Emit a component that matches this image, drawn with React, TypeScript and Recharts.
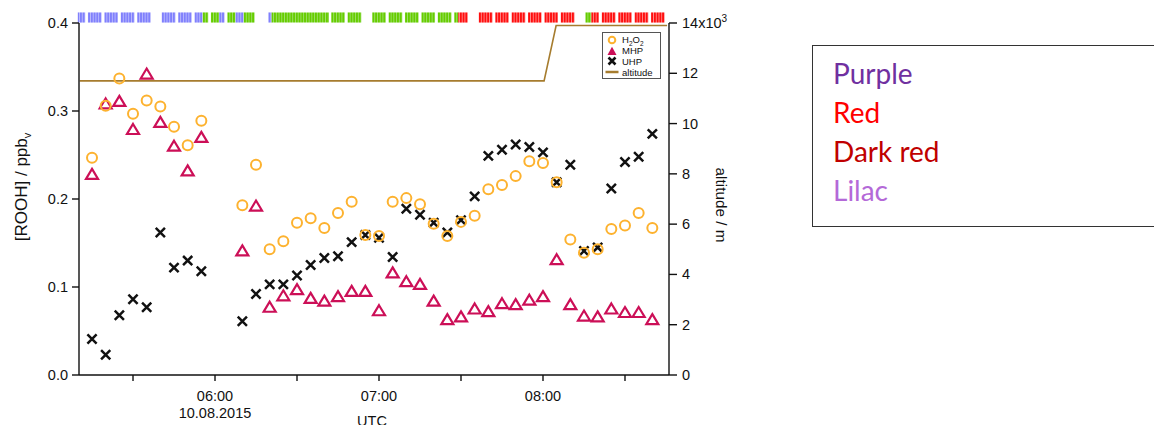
import React from 'react';
import { ComposedChart, Scatter, Line, XAxis, YAxis, ReferenceArea } from 'recharts';

// sample times, minutes after 00:00 UTC on 10.08.2015
const times = [
  315, 320, 325, 330, 335, 340, 345, 350, 355,
  370, 375, 380, 385, 390, 395, 400, 405, 410, 415, 420, 425, 430, 435, 440, 445,
  450, 455, 460, 465, 470, 475, 480, 485, 490, 495, 500, 505, 510, 515, 520,
];

const h2o2 = [
  0.247, 0.306, 0.337, 0.297, 0.312, 0.305, 0.282, 0.261, 0.289,
  0.193, 0.239, 0.143, 0.152, 0.173, 0.178, 0.167, 0.184, 0.197, 0.159, 0.158, 0.197, 0.201, 0.194, 0.172, 0.158,
  0.174, 0.181, 0.211, 0.216, 0.226, 0.243, 0.241, 0.219, 0.154, 0.139, 0.143, 0.166, 0.17, 0.184, 0.167,
];

const mhp = [
  0.228, 0.308, 0.311, 0.279, 0.342, 0.287, 0.26, 0.232, 0.27,
  0.141, 0.192, 0.077, 0.09, 0.097, 0.087, 0.084, 0.089, 0.095, 0.095, 0.073, 0.116, 0.106, 0.103, 0.084, 0.063,
  0.066, 0.075, 0.072, 0.081, 0.08, 0.085, 0.089, 0.131, 0.08, 0.067, 0.066, 0.075, 0.071, 0.071, 0.063,
];

const uhp = [
  0.041, 0.023, 0.068, 0.086, 0.077, 0.162, 0.122, 0.13, 0.118,
  0.061, 0.092, 0.103, 0.103, 0.113, 0.125, 0.133, 0.135, 0.151, 0.159, 0.156, 0.134, 0.189, 0.182, 0.173, 0.162,
  0.176, 0.203, 0.249, 0.256, 0.262, 0.259, 0.253, 0.219, 0.239, 0.141, 0.145, 0.212, 0.242, 0.248, 0.274,
];

const altTimes = [310.5, 480.4, 484.8, 525.4];
const altValues = [11700, 11700, 13900, 13900];

// air-mass flag strip on top: [from, to, flag]
const legs: [number, number, string][] = [
  [309.8, 312.5, 'blue'], [313.5, 318.5, 'blue'], [319.5, 324.5, 'blue'], [325.5, 330.5, 'blue'],
  [331.5, 336.5, 'blue'], [340.5, 345.5, 'blue'], [346.5, 351.5, 'blue'], [352.5, 355.5, 'blue'],
  [355.5, 357.5, 'green'], [358.5, 361.5, 'green'], [361.5, 363.5, 'blue'],
  [364.5, 367.5, 'green'], [367.5, 370.5, 'blue'], [370.5, 374.5, 'green'],
  [379.5, 380.7, 'blue'], [380.7, 401.7, 'green'], [402.5, 407.5, 'green'], [408.5, 413.5, 'green'],
  [417.5, 422.5, 'green'], [423.5, 428.5, 'green'], [429.5, 434.5, 'green'], [435.5, 440.5, 'green'],
  [441.5, 446.5, 'green'], [447.5, 449, 'green'], [449, 452.5, 'red'],
  [456.5, 461.5, 'red'], [462.5, 467.5, 'red'], [468.5, 473.5, 'red'], [474.5, 479.5, 'red'],
  [480.5, 485.5, 'red'], [486.5, 491.5, 'red'],
  [495.5, 497.7, 'green'], [497.7, 500.5, 'red'], [501.5, 506.5, 'red'], [507.5, 512.5, 'red'],
  [513.5, 518.5, 'red'], [519.5, 524.5, 'red'],
];

const timeTicks = [330, 360, 390, 420, 450, 480, 510];
const concTicks = [0, 0.1, 0.2, 0.3, 0.4];
const altTicks = [0, 2000, 4000, 6000, 8000, 10000, 12000, 14000];

const X_MIN = 310.24;
const X_MAX = 526.1;
const PLOT_W = 590;
const PX_PER_MIN = PLOT_W / (X_MAX - X_MIN);

const FONT = '"Liberation Sans", Arial, sans-serif';
const TICK_FS = 14.5;
const ORANGE = '#fdb22f';
const MAGENTA = '#cc0f57';
const BROWN = '#a67c2e';
const stripColors: Record<string, [string, string]> = {
  blue: ['#8080fc', '#c4c4ff'],
  green: ['#66cc00', '#a6e27a'],
  red: ['#ff0f0f', '#ff9a9a'],
};

const h2o2Data = times.map((t, i) => ({ t, v: h2o2[i] }));
const mhpData = times.map((t, i) => ({ t, v: mhp[i] }));
const uhpData = times.map((t, i) => ({ t, v: uhp[i] }));
const altData = altTimes.map((t, i) => ({ t, alt: altValues[i] }));

const Ring = (p: any) => (
  <circle cx={p.cx} cy={p.cy} r={5} fill="none" stroke={ORANGE} strokeWidth={2} />
);
const Tri = (p: any) => (
  <path
    d={`M${p.cx},${p.cy - 5.5} L${p.cx + 6},${p.cy + 4.5} L${p.cx - 6},${p.cy + 4.5} Z`}
    fill="none"
    stroke={MAGENTA}
    strokeWidth={2.2}
  />
);
const Cross = (p: any) => (
  <path
    d={`M${p.cx - 4.6},${p.cy - 4.6} L${p.cx + 4.6},${p.cy + 4.6} M${p.cx - 4.6},${p.cy + 4.6} L${p.cx + 4.6},${p.cy - 4.6}`}
    stroke="#111"
    strokeWidth={2.5}
  />
);

const TimeTick = ({ x, y, payload }: any) => {
  const v = payload.value;
  if (v % 60 !== 0) return null;
  const label = `${String(Math.floor(v / 60)).padStart(2, '0')}:00`;
  return (
    <g fontFamily={FONT} fontSize={TICK_FS} fill="#111">
      <text x={x} y={y} dy={17.5} textAnchor="middle">{label}</text>
      {v === 360 && <text x={x} y={y} dy={34.5} textAnchor="middle">10.08.2015</text>}
    </g>
  );
};

const AltTick = ({ x, y, payload }: any) => {
  const v = payload.value / 1000;
  return (
    <text x={x} y={y} dy={5} fontFamily={FONT} fontSize={TICK_FS} fill="#111" textAnchor="start">
      {v === 14 ? (
        <>
          14x10<tspan dy={-6} fontSize={10}>3</tspan>
        </>
      ) : (
        String(v)
      )}
    </text>
  );
};

const LeftLabel = ({ viewBox }: any) => {
  const cx = viewBox.x + 19;
  const cy = viewBox.y + viewBox.height / 2 - 12;
  return (
    <text
      x={cx}
      y={cy}
      transform={`rotate(-90 ${cx} ${cy})`}
      textAnchor="middle"
      fontFamily={FONT}
      fontSize={17}
      fill="#111"
    >
      [ROOH] / ppb<tspan dy={4} fontSize={11}>v</tspan>
    </text>
  );
};

const RightLabel = ({ viewBox }: any) => {
  const cx = viewBox.x + 47;
  const cy = viewBox.y + viewBox.height / 2 + 6;
  return (
    <text
      x={cx}
      y={cy}
      transform={`rotate(90 ${cx} ${cy})`}
      textAnchor="middle"
      fontFamily={FONT}
      fontSize={15.3}
      fill="#111"
    >
      altitude / m
    </text>
  );
};

const UtcLabel = ({ viewBox }: any) => (
  <text
    x={viewBox.x + viewBox.width / 2 - 2}
    y={viewBox.y + 51}
    textAnchor="middle"
    fontFamily={FONT}
    fontSize={TICK_FS}
    fill="#111"
  >
    UTC
  </text>
);

const legendRows = [
  { name: 'H', kind: 'ring' },
  { name: 'MHP', kind: 'tri' },
  { name: 'UHP', kind: 'cross' },
  { name: 'altitude', kind: 'line' },
];

const LegendIcon = ({ kind }: { kind: string }) => (
  <svg width={14} height={10} style={{ display: 'block' }}>
    {kind === 'ring' && <circle cx={7} cy={5} r={3.3} fill="none" stroke={ORANGE} strokeWidth={2} />}
    {kind === 'tri' && <path d="M7,0.8 L11.5,9 L2.5,9 Z" fill={MAGENTA} />}
    {kind === 'cross' && (
      <path d="M3.5,1.5 L10.5,8.5 M3.5,8.5 L10.5,1.5" stroke="#111" strokeWidth={2.6} />
    )}
    {kind === 'line' && <line x1={0.5} y1={5} x2={13.5} y2={5} stroke={BROWN} strokeWidth={2.5} />}
  </svg>
);

const App = () => {
  return (
    <div style={{ position: 'relative', width: 1146, height: 430 }}>
      <style>{'html{overflow:hidden}'}</style>
      <ComposedChart width={760} height={430} margin={{ top: 15, right: 0, bottom: 0, left: 0 }}>
        <defs>
          {Object.keys(stripColors).map(k => (
            <pattern
              key={k}
              id={`strip-${k}`}
              patternUnits="userSpaceOnUse"
              width={PX_PER_MIN}
              height={40}
            >
              <rect width={PX_PER_MIN} height={40} fill={stripColors[k][0]} />
              <rect width={0.8} height={40} fill={stripColors[k][1]} />
            </pattern>
          ))}
        </defs>
        <XAxis
          dataKey="t"
          type="number"
          domain={[X_MIN, X_MAX]}
          allowDataOverflow
          ticks={timeTicks}
          tick={<TimeTick />}
          tickSize={6}
          tickMargin={2}
          height={63}
          axisLine={{ stroke: '#111', strokeWidth: 1.4 }}
          tickLine={{ stroke: '#111', strokeWidth: 1.4 }}
          label={{ content: <UtcLabel /> }}
        />
        <YAxis
          yAxisId="c"
          orientation="left"
          type="number"
          domain={[0, 0.4]}
          allowDataOverflow
          ticks={concTicks}
          tickFormatter={(v: number) => v.toFixed(1)}
          width={71}
          tickSize={7}
          tickMargin={4}
          tick={{ fontFamily: FONT, fontSize: TICK_FS, fill: '#111' }}
          axisLine={{ stroke: '#111', strokeWidth: 1.4 }}
          tickLine={{ stroke: '#111', strokeWidth: 1.4 }}
          label={{ content: <LeftLabel /> }}
        />
        <YAxis
          yAxisId="alt"
          orientation="right"
          type="number"
          domain={[0, 14000]}
          allowDataOverflow
          ticks={altTicks}
          tick={<AltTick />}
          width={99}
          tickSize={8}
          tickMargin={5}
          axisLine={{ stroke: '#111', strokeWidth: 1.4 }}
          tickLine={{ stroke: '#111', strokeWidth: 1.4 }}
          label={{ content: <RightLabel /> }}
        />
        {legs.map(([from, to, flag], i) => (
          <ReferenceArea
            key={i}
            yAxisId="c"
            x1={from}
            x2={to}
            y1={0.4005}
            y2={0.412}
            fill={`url(#strip-${flag})`}
            fillOpacity={1}
            stroke="none"
            ifOverflow="visible"
          />
        ))}
        <Line
          yAxisId="alt"
          data={altData}
          dataKey="alt"
          type="linear"
          stroke={BROWN}
          strokeWidth={1.6}
          dot={false}
          isAnimationActive={false}
        />
        <Scatter yAxisId="c" data={mhpData} dataKey="v" shape={Tri} isAnimationActive={false} />
        <Scatter yAxisId="c" data={uhpData} dataKey="v" shape={Cross} isAnimationActive={false} />
        <Scatter yAxisId="c" data={h2o2Data} dataKey="v" shape={Ring} isAnimationActive={false} />
      </ComposedChart>

      {/* series key inside the plot */}
      <div
        style={{
          position: 'absolute',
          left: 594,
          top: 24,
          width: 59,
          height: 47,
          border: '1px solid #555',
          background: '#fff',
          fontFamily: FONT,
          fontSize: 9.5,
          color: '#111',
          boxSizing: 'border-box',
          paddingTop: 2,
        }}
      >
        {legendRows.map(r => (
          <div key={r.kind} style={{ display: 'flex', alignItems: 'center', height: 10.6, paddingLeft: 2 }}>
            <LegendIcon kind={r.kind} />
            <span style={{ marginLeft: 3 }}>
              {r.kind === 'ring' ? (
                <>
                  H<sub style={{ fontSize: 6.5 }}>2</sub>O<sub style={{ fontSize: 6.5 }}>2</sub>
                </>
              ) : (
                r.name
              )}
            </span>
          </div>
        ))}
      </div>

      {/* colour names box */}
      <div
        style={{
          position: 'absolute',
          left: 804,
          top: 37,
          width: 370,
          height: 182,
          border: '1.5px solid #333',
          boxSizing: 'border-box',
          paddingTop: 8,
          paddingLeft: 20,
          fontFamily: 'Lato, "Open Sans", sans-serif',
          fontSize: 28,
          lineHeight: '39px',
        }}
      >
        <div style={{ color: '#7030a0' }}>Purple</div>
        <div style={{ color: '#ff0000' }}>Red</div>
        <div style={{ color: '#c00000' }}>Dark red</div>
        <div style={{ color: '#b469d8' }}>Lilac</div>
      </div>
    </div>
  );
};

export default App;
